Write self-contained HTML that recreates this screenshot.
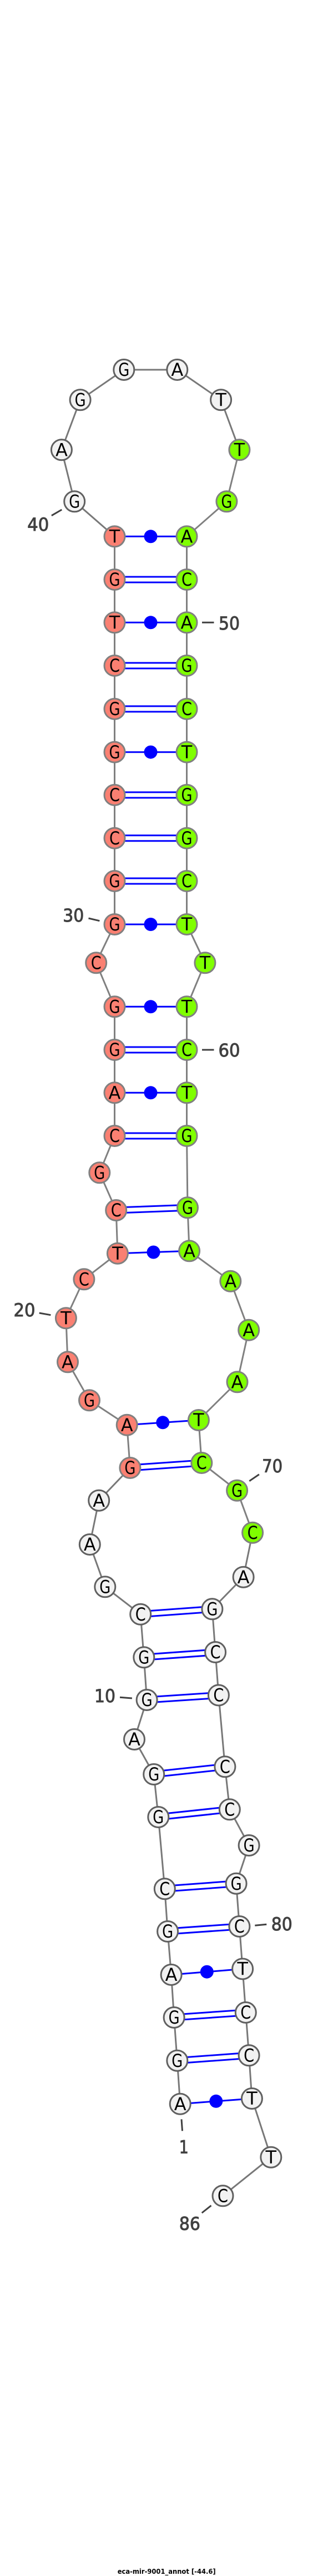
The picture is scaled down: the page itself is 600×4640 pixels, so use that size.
<!DOCTYPE html>
<html><head><meta charset="utf-8"><style>
html,body{margin:0;padding:0;background:#fff}
svg{display:block}
.n text{font-family:"DejaVu Sans",sans-serif;font-size:32px;text-anchor:middle;fill:#000}
.r circle{fill:#fa8072;stroke:#808080;stroke-width:3}
.g circle{fill:#7fff00;stroke:#808080;stroke-width:3}
.w circle{fill:#f2f2f2;stroke:#606060;stroke-width:3}
.b{fill:none;stroke:#808080;stroke-width:3}
.p line{stroke:#0000ff;stroke-width:3}
.d{fill:#0000ff}
.l text{font-family:"DejaVu Sans",sans-serif;font-size:32px;text-anchor:middle;fill:#404040;stroke:#404040;stroke-width:1}
.l line{stroke:#404040;stroke-width:3}
</style></head><body>
<svg xmlns="http://www.w3.org/2000/svg" width="600" height="4640" viewBox="0 0 600 4640">
<rect width="600" height="4640" fill="#fff"/>
<g class="b">
<polyline style="stroke:#787878" points="324.7,3789.7 319.3,3711.7 313.6,3634 308.6,3557 302.1,3479 296.8,3402.3 285.3,3273 277.2,3196 242,3133 264.6,3062 259.3,2985.3 253.2,2907.7 189.3,2858.3 161.8,2782 178.2,2702.7 234.4,2644"/>
<polyline points="234.4,2644 228.7,2566.7 161,2522.3 122,2453.3 118.9,2374.3 151.4,2304.3 211.9,2257.7 209.2,2180 179.3,2112.3 206.5,2046 206.5,1968.3 206.5,1891 206.5,1813.3 173.2,1734.3 206.5,1665 206.5,1587 206.5,1509.7 206.5,1432 206.5,1354.7 206.5,1277 206.5,1199 206.5,1121.3 206.5,1044 206.5,966.3"/>
<polyline style="stroke:#787878" points="206.5,966.3 134.2,903.3 110.9,810.3 144.6,720.3 223.3,666 319.3,666 398.1,720.3 431.4,810.3"/>
<polyline points="431.4,810.3 408.4,903.3 336.5,966.3 336.5,1044 336.5,1121.3 336.5,1199 336.5,1277 336.5,1354.7 336.5,1432 336.5,1509.7 336.5,1587 336.5,1665 369.4,1734.3 336.5,1813.3 336.5,1891 336.5,1968.3 336.5,2046 338,2175.3 341.1,2253.3 415.3,2307.7 448.2,2395.7 427.5,2489.3 357.9,2558 363.3,2635 427.1,2684.7 455.1,2760.7"/>
<polyline style="stroke:#787878" points="455.1,2760.7 438.6,2840.7 382.4,2898.3 388.1,2976 393.9,3053.5 405.4,3182.3 413.8,3259.3 448.6,3324 425.6,3392.7 431.4,3470 437.1,3546.5 442.8,3625 448.6,3702.3 453.9,3780 488.3,3885.7 401.5,3955.3"/>
</g>
<g class="p">
<line x1="206.5" y1="966.3" x2="336.5" y2="966.3"/>
<line x1="206.5" y1="1039" x2="336.5" y2="1039"/><line x1="206.5" y1="1049" x2="336.5" y2="1049"/>
<line x1="206.5" y1="1121.3" x2="336.5" y2="1121.3"/>
<line x1="206.5" y1="1194" x2="336.5" y2="1194"/><line x1="206.5" y1="1204" x2="336.5" y2="1204"/>
<line x1="206.5" y1="1272" x2="336.5" y2="1272"/><line x1="206.5" y1="1282" x2="336.5" y2="1282"/>
<line x1="206.5" y1="1354.7" x2="336.5" y2="1354.7"/>
<line x1="206.5" y1="1427" x2="336.5" y2="1427"/><line x1="206.5" y1="1437" x2="336.5" y2="1437"/>
<line x1="206.5" y1="1504.7" x2="336.5" y2="1504.7"/><line x1="206.5" y1="1514.7" x2="336.5" y2="1514.7"/>
<line x1="206.5" y1="1582" x2="336.5" y2="1582"/><line x1="206.5" y1="1592" x2="336.5" y2="1592"/>
<line x1="206.5" y1="1665" x2="336.5" y2="1665"/>
<line x1="206.5" y1="1813.3" x2="336.5" y2="1813.3"/>
<line x1="206.5" y1="1886" x2="336.5" y2="1886"/><line x1="206.5" y1="1896" x2="336.5" y2="1896"/>
<line x1="206.5" y1="1968.3" x2="336.5" y2="1968.3"/>
<line x1="206.5" y1="2041" x2="336.5" y2="2041"/><line x1="206.5" y1="2051" x2="336.5" y2="2051"/>
<line x1="209.2" y1="2175" x2="338" y2="2170.3"/><line x1="209.2" y1="2185" x2="338" y2="2180.3"/>
<line x1="211.9" y1="2257.7" x2="341.1" y2="2253.3"/>
<line x1="228.7" y1="2566.7" x2="357.9" y2="2558"/>
<line x1="234.4" y1="2639" x2="363.3" y2="2630"/><line x1="234.4" y1="2649" x2="363.3" y2="2640"/>
<line x1="253.2" y1="2902.7" x2="382.4" y2="2893.3"/><line x1="253.2" y1="2912.7" x2="382.4" y2="2903.3"/>
<line x1="259.3" y1="2980.3" x2="388.1" y2="2971"/><line x1="259.3" y1="2990.3" x2="388.1" y2="2981"/>
<line x1="264.6" y1="3057" x2="393.9" y2="3048.5"/><line x1="264.6" y1="3067" x2="393.9" y2="3058.5"/>
<line x1="277.2" y1="3191" x2="405.4" y2="3177.3"/><line x1="277.2" y1="3201" x2="405.4" y2="3187.3"/>
<line x1="285.3" y1="3268" x2="413.8" y2="3254.3"/><line x1="285.3" y1="3278" x2="413.8" y2="3264.3"/>
<line x1="296.8" y1="3397.3" x2="425.6" y2="3387.7"/><line x1="296.8" y1="3407.3" x2="425.6" y2="3397.7"/>
<line x1="302.1" y1="3474" x2="431.4" y2="3465"/><line x1="302.1" y1="3484" x2="431.4" y2="3475"/>
<line x1="308.6" y1="3557" x2="437.1" y2="3546.5"/>
<line x1="313.6" y1="3629" x2="442.8" y2="3620"/><line x1="313.6" y1="3639" x2="442.8" y2="3630"/>
<line x1="319.3" y1="3706.7" x2="448.6" y2="3697.3"/><line x1="319.3" y1="3716.7" x2="448.6" y2="3707.3"/>
<line x1="324.7" y1="3789.7" x2="453.9" y2="3780"/>
</g>
<g class="d">
<circle cx="271.5" cy="966.3" r="12"/>
<circle cx="271.5" cy="1121.3" r="12"/>
<circle cx="271.5" cy="1354.7" r="12"/>
<circle cx="271.5" cy="1665" r="12"/>
<circle cx="271.5" cy="1813.3" r="12"/>
<circle cx="271.5" cy="1968.3" r="12"/>
<circle cx="276.5" cy="2255.5" r="12"/>
<circle cx="293.3" cy="2562.3" r="12"/>
<circle cx="372.8" cy="3551.7" r="12"/>
<circle cx="389.3" cy="3784.8" r="12"/>
</g>
<g class="n w">
<circle cx="324.7" cy="3789.7" r="18.5"/><text x="324.7" y="3801">A</text>
<circle cx="319.3" cy="3711.7" r="18.5"/><text x="319.3" y="3723" textLength="20" lengthAdjust="spacingAndGlyphs">G</text>
<circle cx="313.6" cy="3634" r="18.5"/><text x="313.6" y="3645" textLength="20" lengthAdjust="spacingAndGlyphs">G</text>
<circle cx="308.6" cy="3557" r="18.5"/><text x="308.6" y="3568">A</text>
<circle cx="302.1" cy="3479" r="18.5"/><text x="302.1" y="3490" textLength="20" lengthAdjust="spacingAndGlyphs">G</text>
<circle cx="296.8" cy="3402.3" r="18.5"/><text x="296.8" y="3413.5" textLength="19" lengthAdjust="spacingAndGlyphs">C</text>
<circle cx="285.3" cy="3273" r="18.5"/><text x="285.3" y="3284" textLength="20" lengthAdjust="spacingAndGlyphs">G</text>
<circle cx="277.2" cy="3196" r="18.5"/><text x="277.2" y="3207" textLength="20" lengthAdjust="spacingAndGlyphs">G</text>
<circle cx="242" cy="3133" r="18.5"/><text x="242" y="3144">A</text>
<circle cx="264.6" cy="3062" r="18.5"/><text x="264.6" y="3073" textLength="20" lengthAdjust="spacingAndGlyphs">G</text>
<circle cx="259.3" cy="2985.3" r="18.5"/><text x="259.3" y="2996.5" textLength="20" lengthAdjust="spacingAndGlyphs">G</text>
<circle cx="253.2" cy="2907.7" r="18.5"/><text x="253.2" y="2919" textLength="19" lengthAdjust="spacingAndGlyphs">C</text>
<circle cx="189.3" cy="2858.3" r="18.5"/><text x="189.3" y="2869.5" textLength="20" lengthAdjust="spacingAndGlyphs">G</text>
<circle cx="161.8" cy="2782" r="18.5"/><text x="161.8" y="2793">A</text>
<circle cx="178.2" cy="2702.7" r="18.5"/><text x="178.2" y="2714">A</text>
<circle cx="134.2" cy="903.3" r="18.5"/><text x="134.2" y="914.5" textLength="20" lengthAdjust="spacingAndGlyphs">G</text>
<circle cx="110.9" cy="810.3" r="18.5"/><text x="110.9" y="821.5">A</text>
<circle cx="144.6" cy="720.3" r="18.5"/><text x="144.6" y="731.5" textLength="20" lengthAdjust="spacingAndGlyphs">G</text>
<circle cx="223.3" cy="666" r="18.5"/><text x="223.3" y="677" textLength="20" lengthAdjust="spacingAndGlyphs">G</text>
<circle cx="319.3" cy="666" r="18.5"/><text x="319.3" y="677">A</text>
<circle cx="398.1" cy="720.3" r="18.5"/><text x="398.1" y="731.5">T</text>
<circle cx="438.6" cy="2840.7" r="18.5"/><text x="438.6" y="2852">A</text>
<circle cx="382.4" cy="2898.3" r="18.5"/><text x="382.4" y="2909.5" textLength="20" lengthAdjust="spacingAndGlyphs">G</text>
<circle cx="388.1" cy="2976" r="18.5"/><text x="388.1" y="2987" textLength="19" lengthAdjust="spacingAndGlyphs">C</text>
<circle cx="393.9" cy="3053.5" r="18.5"/><text x="393.9" y="3064.5" textLength="19" lengthAdjust="spacingAndGlyphs">C</text>
<circle cx="405.4" cy="3182.3" r="18.5"/><text x="405.4" y="3193.5" textLength="19" lengthAdjust="spacingAndGlyphs">C</text>
<circle cx="413.8" cy="3259.3" r="18.5"/><text x="413.8" y="3270.5" textLength="19" lengthAdjust="spacingAndGlyphs">C</text>
<circle cx="448.6" cy="3324" r="18.5"/><text x="448.6" y="3335" textLength="20" lengthAdjust="spacingAndGlyphs">G</text>
<circle cx="425.6" cy="3392.7" r="18.5"/><text x="425.6" y="3404" textLength="20" lengthAdjust="spacingAndGlyphs">G</text>
<circle cx="431.4" cy="3470" r="18.5"/><text x="431.4" y="3481" textLength="19" lengthAdjust="spacingAndGlyphs">C</text>
<circle cx="437.1" cy="3546.5" r="18.5"/><text x="437.1" y="3557.5">T</text>
<circle cx="442.8" cy="3625" r="18.5"/><text x="442.8" y="3636" textLength="19" lengthAdjust="spacingAndGlyphs">C</text>
<circle cx="448.6" cy="3702.3" r="18.5"/><text x="448.6" y="3713.5" textLength="19" lengthAdjust="spacingAndGlyphs">C</text>
<circle cx="453.9" cy="3780" r="18.5"/><text x="453.9" y="3791">T</text>
<circle cx="488.3" cy="3885.7" r="18.5"/><text x="488.3" y="3897">T</text>
<circle cx="401.5" cy="3955.3" r="18.5"/><text x="401.5" y="3966.5" textLength="19" lengthAdjust="spacingAndGlyphs">C</text>
</g>
<g class="n r">
<circle cx="234.4" cy="2644" r="18.5"/><text x="234.4" y="2655" textLength="20" lengthAdjust="spacingAndGlyphs">G</text>
<circle cx="228.7" cy="2566.7" r="18.5"/><text x="228.7" y="2578">A</text>
<circle cx="161" cy="2522.3" r="18.5"/><text x="161" y="2533.5" textLength="20" lengthAdjust="spacingAndGlyphs">G</text>
<circle cx="122" cy="2453.3" r="18.5"/><text x="122" y="2464.5">A</text>
<circle cx="118.9" cy="2374.3" r="18.5"/><text x="118.9" y="2385.5">T</text>
<circle cx="151.4" cy="2304.3" r="18.5"/><text x="151.4" y="2315.5" textLength="19" lengthAdjust="spacingAndGlyphs">C</text>
<circle cx="211.9" cy="2257.7" r="18.5"/><text x="211.9" y="2269">T</text>
<circle cx="209.2" cy="2180" r="18.5"/><text x="209.2" y="2191" textLength="19" lengthAdjust="spacingAndGlyphs">C</text>
<circle cx="179.3" cy="2112.3" r="18.5"/><text x="179.3" y="2123.5" textLength="20" lengthAdjust="spacingAndGlyphs">G</text>
<circle cx="206.5" cy="2046" r="18.5"/><text x="206.5" y="2057" textLength="19" lengthAdjust="spacingAndGlyphs">C</text>
<circle cx="206.5" cy="1968.3" r="18.5"/><text x="206.5" y="1979.5">A</text>
<circle cx="206.5" cy="1891" r="18.5"/><text x="206.5" y="1902" textLength="20" lengthAdjust="spacingAndGlyphs">G</text>
<circle cx="206.5" cy="1813.3" r="18.5"/><text x="206.5" y="1824.5" textLength="20" lengthAdjust="spacingAndGlyphs">G</text>
<circle cx="173.2" cy="1734.3" r="18.5"/><text x="173.2" y="1745.5" textLength="19" lengthAdjust="spacingAndGlyphs">C</text>
<circle cx="206.5" cy="1665" r="18.5"/><text x="206.5" y="1676" textLength="20" lengthAdjust="spacingAndGlyphs">G</text>
<circle cx="206.5" cy="1587" r="18.5"/><text x="206.5" y="1598" textLength="20" lengthAdjust="spacingAndGlyphs">G</text>
<circle cx="206.5" cy="1509.7" r="18.5"/><text x="206.5" y="1521" textLength="19" lengthAdjust="spacingAndGlyphs">C</text>
<circle cx="206.5" cy="1432" r="18.5"/><text x="206.5" y="1443" textLength="19" lengthAdjust="spacingAndGlyphs">C</text>
<circle cx="206.5" cy="1354.7" r="18.5"/><text x="206.5" y="1366" textLength="20" lengthAdjust="spacingAndGlyphs">G</text>
<circle cx="206.5" cy="1277" r="18.5"/><text x="206.5" y="1288" textLength="20" lengthAdjust="spacingAndGlyphs">G</text>
<circle cx="206.5" cy="1199" r="18.5"/><text x="206.5" y="1210" textLength="19" lengthAdjust="spacingAndGlyphs">C</text>
<circle cx="206.5" cy="1121.3" r="18.5"/><text x="206.5" y="1132.5">T</text>
<circle cx="206.5" cy="1044" r="18.5"/><text x="206.5" y="1055" textLength="20" lengthAdjust="spacingAndGlyphs">G</text>
<circle cx="206.5" cy="966.3" r="18.5"/><text x="206.5" y="977.5">T</text>
</g>
<g class="n g">
<circle cx="431.4" cy="810.3" r="18.5"/><text x="431.4" y="821.5">T</text>
<circle cx="408.4" cy="903.3" r="18.5"/><text x="408.4" y="914.5" textLength="20" lengthAdjust="spacingAndGlyphs">G</text>
<circle cx="336.5" cy="966.3" r="18.5"/><text x="336.5" y="977.5">A</text>
<circle cx="336.5" cy="1044" r="18.5"/><text x="336.5" y="1055" textLength="19" lengthAdjust="spacingAndGlyphs">C</text>
<circle cx="336.5" cy="1121.3" r="18.5"/><text x="336.5" y="1132.5">A</text>
<circle cx="336.5" cy="1199" r="18.5"/><text x="336.5" y="1210" textLength="20" lengthAdjust="spacingAndGlyphs">G</text>
<circle cx="336.5" cy="1277" r="18.5"/><text x="336.5" y="1288" textLength="19" lengthAdjust="spacingAndGlyphs">C</text>
<circle cx="336.5" cy="1354.7" r="18.5"/><text x="336.5" y="1366">T</text>
<circle cx="336.5" cy="1432" r="18.5"/><text x="336.5" y="1443" textLength="20" lengthAdjust="spacingAndGlyphs">G</text>
<circle cx="336.5" cy="1509.7" r="18.5"/><text x="336.5" y="1521" textLength="20" lengthAdjust="spacingAndGlyphs">G</text>
<circle cx="336.5" cy="1587" r="18.5"/><text x="336.5" y="1598" textLength="19" lengthAdjust="spacingAndGlyphs">C</text>
<circle cx="336.5" cy="1665" r="18.5"/><text x="336.5" y="1676">T</text>
<circle cx="369.4" cy="1734.3" r="18.5"/><text x="369.4" y="1745.5">T</text>
<circle cx="336.5" cy="1813.3" r="18.5"/><text x="336.5" y="1824.5">T</text>
<circle cx="336.5" cy="1891" r="18.5"/><text x="336.5" y="1902" textLength="19" lengthAdjust="spacingAndGlyphs">C</text>
<circle cx="336.5" cy="1968.3" r="18.5"/><text x="336.5" y="1979.5">T</text>
<circle cx="336.5" cy="2046" r="18.5"/><text x="336.5" y="2057" textLength="20" lengthAdjust="spacingAndGlyphs">G</text>
<circle cx="338" cy="2175.3" r="18.5"/><text x="338" y="2186.5" textLength="20" lengthAdjust="spacingAndGlyphs">G</text>
<circle cx="341.1" cy="2253.3" r="18.5"/><text x="341.1" y="2264.5">A</text>
<circle cx="415.3" cy="2307.7" r="18.5"/><text x="415.3" y="2319">A</text>
<circle cx="448.2" cy="2395.7" r="18.5"/><text x="448.2" y="2407">A</text>
<circle cx="427.5" cy="2489.3" r="18.5"/><text x="427.5" y="2500.5">A</text>
<circle cx="357.9" cy="2558" r="18.5"/><text x="357.9" y="2569">T</text>
<circle cx="363.3" cy="2635" r="18.5"/><text x="363.3" y="2646" textLength="19" lengthAdjust="spacingAndGlyphs">C</text>
<circle cx="427.1" cy="2684.7" r="18.5"/><text x="427.1" y="2696" textLength="20" lengthAdjust="spacingAndGlyphs">G</text>
<circle cx="455.1" cy="2760.7" r="18.5"/><text x="455.1" y="2772" textLength="19" lengthAdjust="spacingAndGlyphs">C</text>
</g>
<g class="l">
<line x1="92.9" y1="928.7" x2="111.3" y2="918"/><text x="68.8" y="956" textLength="39" lengthAdjust="spacingAndGlyphs">40</text>
<line x1="364" y1="1121.3" x2="385.5" y2="1121.3"/><text x="413" y="1134" textLength="38" lengthAdjust="spacingAndGlyphs">50</text>
<line x1="159.5" y1="1654" x2="179.4" y2="1658.7"/><text x="132.3" y="1660" textLength="38" lengthAdjust="spacingAndGlyphs">30</text>
<line x1="364" y1="1891" x2="385.5" y2="1891"/><text x="413" y="1903" textLength="39" lengthAdjust="spacingAndGlyphs">60</text>
<line x1="70.7" y1="2365" x2="91.4" y2="2368.7"/><text x="44" y="2371" textLength="39" lengthAdjust="spacingAndGlyphs">20</text>
<line x1="449.3" y1="2667.7" x2="466.9" y2="2655.7"/><text x="490.6" y="2652" textLength="37" lengthAdjust="spacingAndGlyphs">70</text>
<line x1="216" y1="3057.3" x2="237.9" y2="3059"/><text x="189" y="3066" textLength="38" lengthAdjust="spacingAndGlyphs">10</text>
<line x1="459.3" y1="3468.3" x2="480.3" y2="3466.3"/><text x="507.8" y="3477" textLength="38" lengthAdjust="spacingAndGlyphs">80</text>
<line x1="327" y1="3817.3" x2="328.5" y2="3838.3"/><text x="331.2" y="3878.5" textLength="17" lengthAdjust="spacingAndGlyphs">1</text>
<line x1="363.7" y1="3986" x2="380.5" y2="3972.7"/><text x="341.9" y="4016.5" textLength="38" lengthAdjust="spacingAndGlyphs">86</text>
</g>
<text x="211.7" y="4636" textLength="177" lengthAdjust="spacingAndGlyphs" style="font-family:'DejaVu Sans',sans-serif;font-size:12px;font-weight:bold;fill:#000">eca-mir-9001_annot [-44.6]</text>
</svg>
</body></html>
